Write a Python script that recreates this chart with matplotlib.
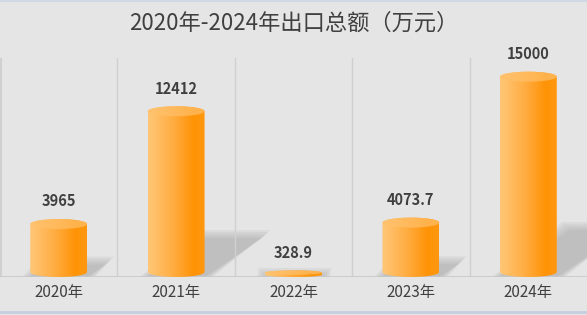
import numpy as np
import matplotlib
matplotlib.use("Agg")
import matplotlib.pyplot as plt
from matplotlib.colors import LinearSegmentedColormap
from matplotlib.patches import Polygon, Ellipse
from matplotlib.lines import Line2D

plt.rcParams['font.family'] = ['Noto Sans CJK SC', 'DejaVu Sans']

categories = ['2020年', '2021年', '2022年', '2023年', '2024年']
values = [3965, 12412, 328.9, 4073.7, 15000]
labels = ['3965', '12412', '328.9', '4073.7', '15000']
title = '2020年-2024年出口总额（万元）'

W, H = 587, 315
fig = plt.figure(figsize=(W / 100, H / 100), dpi=100, facecolor='#e5e5e5')
ax_bottom_px, ax_top_px = 277, 58
ax = fig.add_axes([0.0, (H - ax_bottom_px) / H, 1.0, (ax_bottom_px - ax_top_px) / H])
ax.set_facecolor('#e5e5e5')
ymax = 16400
ax.set_xlim(-0.5, len(categories) - 0.5)
ax.set_ylim(0, ymax)

px_x = (len(categories)) / W
px_y = ymax / (ax_bottom_px - ax_top_px)

# separators
for i in range(1, len(categories)):
    ax.axvline(i - 0.5, color='#d0d0d0', lw=1, zorder=1.8)
ax.axvline(-0.5 + px_x, color='#d0d0d0', lw=1.5, zorder=1.8)
ax.axhline(0, color='#c8c8c8', lw=1.2, zorder=1.9)

cmap = LinearSegmentedColormap.from_list(
    'cyl', [(0, '#ffc778'), (0.45, '#ffac40'), (0.8, '#ff9306'), (1.0, '#ff980f')])
grad = np.linspace(0, 1, 256).reshape(1, -1)

bw = 0.485
e_full = 10 * px_y

for i, v in enumerate(values):
    xl, xr = i - bw / 2, i + bw / 2
    hpx = v / px_y
    # shadow (soft parallelogram)
    dx = 0.35 * hpx * px_x
    dy = 0.235 * hpx * px_y
    for k in range(5):
        g = (4 - k) * 2.0  # grow in px
        gx, gy = g * px_x, g * px_y
        pts = [(xl - gx, 0), (xr + gx, 0),
               (xr + dx + gx, dy + gy), (xl + dx - gx, dy + gy)]
        ax.add_patch(Polygon(pts, closed=True, facecolor='#9a9a9a', alpha=0.12,
                             edgecolor='none', zorder=1.5))
    e = min(e_full, v)
    yb = e / 2
    th = np.linspace(np.pi, 2 * np.pi, 40)
    bottom = [(i + bw / 2 * np.cos(t), yb + e / 2 * np.sin(t)) for t in th]
    th2 = np.linspace(0, np.pi, 40)
    top = [(i + bw / 2 * np.cos(t), v + e / 2 * np.sin(t)) for t in th2]
    body = Polygon(bottom + top, closed=True, transform=ax.transData,
                   facecolor='none', edgecolor='none')
    ax.add_patch(body)
    im = ax.imshow(grad, cmap=cmap, extent=[xl, xr, 0, v + e], aspect='auto',
                   zorder=2, interpolation='bilinear')
    im.set_clip_path(body)
    ax.add_patch(Ellipse((i, v), bw, e, facecolor='#ffc06a', edgecolor='none',
                         alpha=0.7, zorder=2.5))
    ax.annotate(labels[i], (i, v + e / 2), xytext=(0, 7), textcoords='offset points',
                ha='center', va='bottom', fontsize=10.5, fontweight='bold',
                color='#404040', zorder=3)

ax.set_xticks(range(len(categories)))
ax.set_xticklabels(categories, fontsize=11, color='#404040')
ax.tick_params(axis='x', length=0, pad=5)
ax.set_yticks([])
for sp in ax.spines.values():
    sp.set_visible(False)

fig.text(0.5, 1 - 23 / H, title, ha='center', va='center', fontsize=16, color='#404040')
fig.add_artist(Line2D([0, 1], [1 - 312 / H] * 2, color='#c5cfdf', lw=2, transform=fig.transFigure))
fig.add_artist(Line2D([0, 1], [1 - 0.5 / H] * 2, color='#d0d8e6', lw=1.5, transform=fig.transFigure))

fig.savefig('out.png', dpi=100, facecolor=fig.get_facecolor())
